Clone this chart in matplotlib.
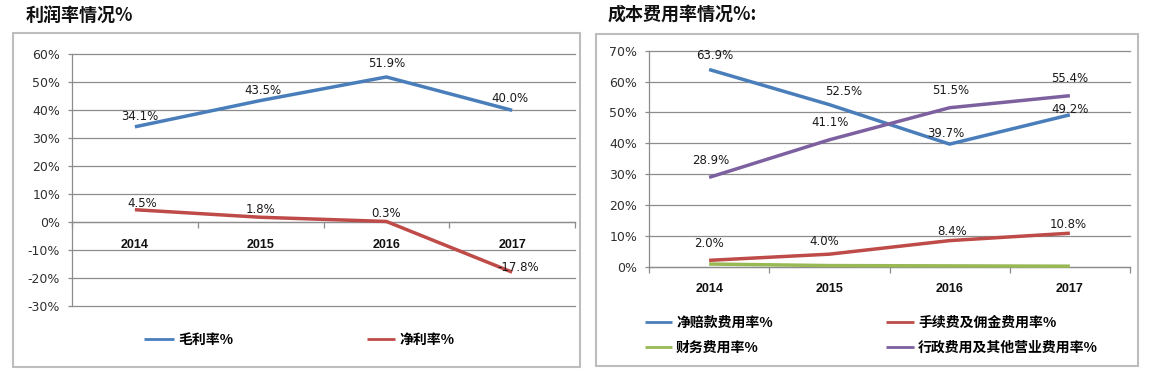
import matplotlib
matplotlib.use("Agg")
import matplotlib.pyplot as plt
from matplotlib.patches import Rectangle
from matplotlib.legend import Legend

plt.rcParams['font.family'] = ['DejaVu Sans', 'Noto Sans CJK SC']
CJK = ['Noto Sans CJK SC', 'DejaVu Sans']

# ---------------- data ----------------
years = ['2014', '2015', '2016', '2017']

left_title = '利润率情况%'
gross_margin = [34.1, 43.5, 51.9, 40.0]
net_margin = [4.5, 1.8, 0.3, -17.8]
left_names = ['毛利率%', '净利率%']
left_yticks = [-30, -20, -10, 0, 10, 20, 30, 40, 50, 60]

right_title = '成本费用率情况%:'
claims_ratio = [63.9, 52.5, 39.7, 49.2]
commission_ratio = [2.0, 4.0, 8.4, 10.8]
finance_ratio = [0.8, 0.3, 0.2, 0.1]
admin_ratio = [28.9, 41.1, 51.5, 55.4]
right_names = ['净赔款费用率%', '手续费及佣金费用率%', '财务费用率%', '行政费用及其他营业费用率%']
right_yticks = [0, 10, 20, 30, 40, 50, 60, 70]

# ---------------- styles ----------------
W, H = 1153, 374
BLUE, RED, GREEN, PURPLE = '#4A7EBB', '#BE4B48', '#98B954', '#7D60A0'
GRID = '#8C8C8C'
LW = 2.5

fig = plt.figure(figsize=(W / 100, H / 100), dpi=100)


def rect(x0, x1, ytop, ybot):
    return [x0 / W, 1 - ybot / H, (x1 - x0) / W, (ybot - ytop) / H]


def style_axes(ax, yticks, zero_spine):
    x = list(range(len(years)))
    ax.set_xlim(-0.5, len(years) - 0.5)
    ax.set_ylim(yticks[0], yticks[-1])
    ax.set_yticks(yticks)
    ax.set_yticklabels([f'{t}%' for t in yticks], fontsize=9, color='#303030')
    ax.yaxis.grid(True, color=GRID, lw=0.9)
    for gl in ax.yaxis.get_gridlines():
        gl.set_clip_on(False)
    ax.set_axisbelow(True)
    for s in ['top', 'right']:
        ax.spines[s].set_visible(False)
    ax.spines['left'].set_color(GRID)
    ax.spines['left'].set_linewidth(0.9)
    ax.spines['bottom'].set_color(GRID)
    ax.spines['bottom'].set_linewidth(0.9)
    if zero_spine:
        ax.spines['bottom'].set_position(('data', 0))
    ax.tick_params(axis='y', length=3, width=0.9, color=GRID, pad=5.5)
    ax.set_xticks(x)
    ax.set_xticklabels(years, fontsize=9, fontweight='bold',
                       family=['Liberation Sans', 'DejaVu Sans'], color='#111111')
    ax.tick_params(axis='x', which='major', length=0, pad=12)
    ax.set_xticks([i - 0.5 for i in range(len(years) + 1)], minor=True)
    ax.tick_params(axis='x', which='minor', length=4, width=0.9, color=GRID, direction='out')
    ax.patch.set_alpha(0)


def label_series(ax, values, offsets):
    for i, (v, (dx, dy)) in enumerate(zip(values, offsets)):
        ax.annotate(f'{v:.1f}%', (i, v), xytext=(dx, dy), textcoords='offset pixels',
                    ha='center', va='center', fontsize=8.5, color='#1A1A1A')


def legend_entry(ax, line, text, x_px, y_px, hl_px):
    fs = 10
    em = fs * 100 / 72
    leg = Legend(ax, [line], [text], loc='center left',
                 bbox_to_anchor=(x_px / W, 1 - y_px / H), bbox_transform=fig.transFigure,
                 frameon=False, borderpad=0, borderaxespad=0,
                 handlelength=hl_px / em, handletextpad=4 / em,
                 prop={'family': CJK, 'weight': 'bold', 'size': fs})
    for h in leg.legend_handles:
        h.set_linewidth(2.0)
    ax.add_artist(leg)


# frames
fig.patches.append(Rectangle((13 / W, 1 - 367 / H), (580 - 13) / W, (367 - 33) / H,
                             transform=fig.transFigure, fill=False, ec='#BDBDBD', lw=1.5))
fig.patches.append(Rectangle((596 / W, 1 - 366 / H), (1138 - 596) / W, (366 - 34) / H,
                             transform=fig.transFigure, fill=False, ec='#BDBDBD', lw=1.5))

# titles
fig.text(26 / W, 1 - 16 / H, left_title, family=CJK, fontweight='bold', fontsize=13,
         ha='left', va='center', color='#111111')
fig.text(608 / W, 1 - 14 / H, right_title, family=CJK, fontweight='bold', fontsize=13,
         ha='left', va='center', color='#111111')

# ---------------- left chart ----------------
axL = fig.add_axes(rect(72, 575, 54.3, 306.3))
style_axes(axL, left_yticks, zero_spine=True)
xs = range(len(years))
lg, = axL.plot(xs, gross_margin, color=BLUE, lw=LW, solid_capstyle='butt', zorder=3)
ln, = axL.plot(xs, net_margin, color=RED, lw=LW, solid_capstyle='butt', zorder=3)
label_series(axL, gross_margin, [(5, 10), (2, 10), (0, 13), (-2, 11.5)])
label_series(axL, net_margin, [(7, 6), (0, 8), (0, 7.5), (6, 5)])
legend_entry(axL, lg, left_names[0], 144, 340, 30)
legend_entry(axL, ln, left_names[1], 367, 340, 28)

# ---------------- right chart ----------------
axR = fig.add_axes(rect(649, 1130, 50.7, 266.5))
style_axes(axR, right_yticks, zero_spine=False)
l1, = axR.plot(xs, claims_ratio, color=BLUE, lw=LW, solid_capstyle='butt', zorder=3, clip_on=False)
l2, = axR.plot(xs, commission_ratio, color=RED, lw=LW, solid_capstyle='butt', zorder=3, clip_on=False)
l3, = axR.plot(xs, finance_ratio, color=GREEN, lw=LW, solid_capstyle='butt', zorder=3, clip_on=False)
l4, = axR.plot(xs, admin_ratio, color=PURPLE, lw=LW, solid_capstyle='butt', zorder=3, clip_on=False)
label_series(axR, claims_ratio, [(6, 14), (14, 13), (-4, 11), (0, 5)])
label_series(axR, commission_ratio, [(0, 17), (-5, 13), (2, 9), (-2, 9)])
label_series(axR, admin_ratio, [(2, 17), (1, 17), (1, 17), (0, 17)])
legend_entry(axR, l1, right_names[0], 645, 323, 27)
legend_entry(axR, l2, right_names[1], 886, 323, 28)
legend_entry(axR, l3, right_names[2], 645, 348, 27)
legend_entry(axR, l4, right_names[3], 886, 348, 28)

fig.savefig('out.png', dpi=100)
